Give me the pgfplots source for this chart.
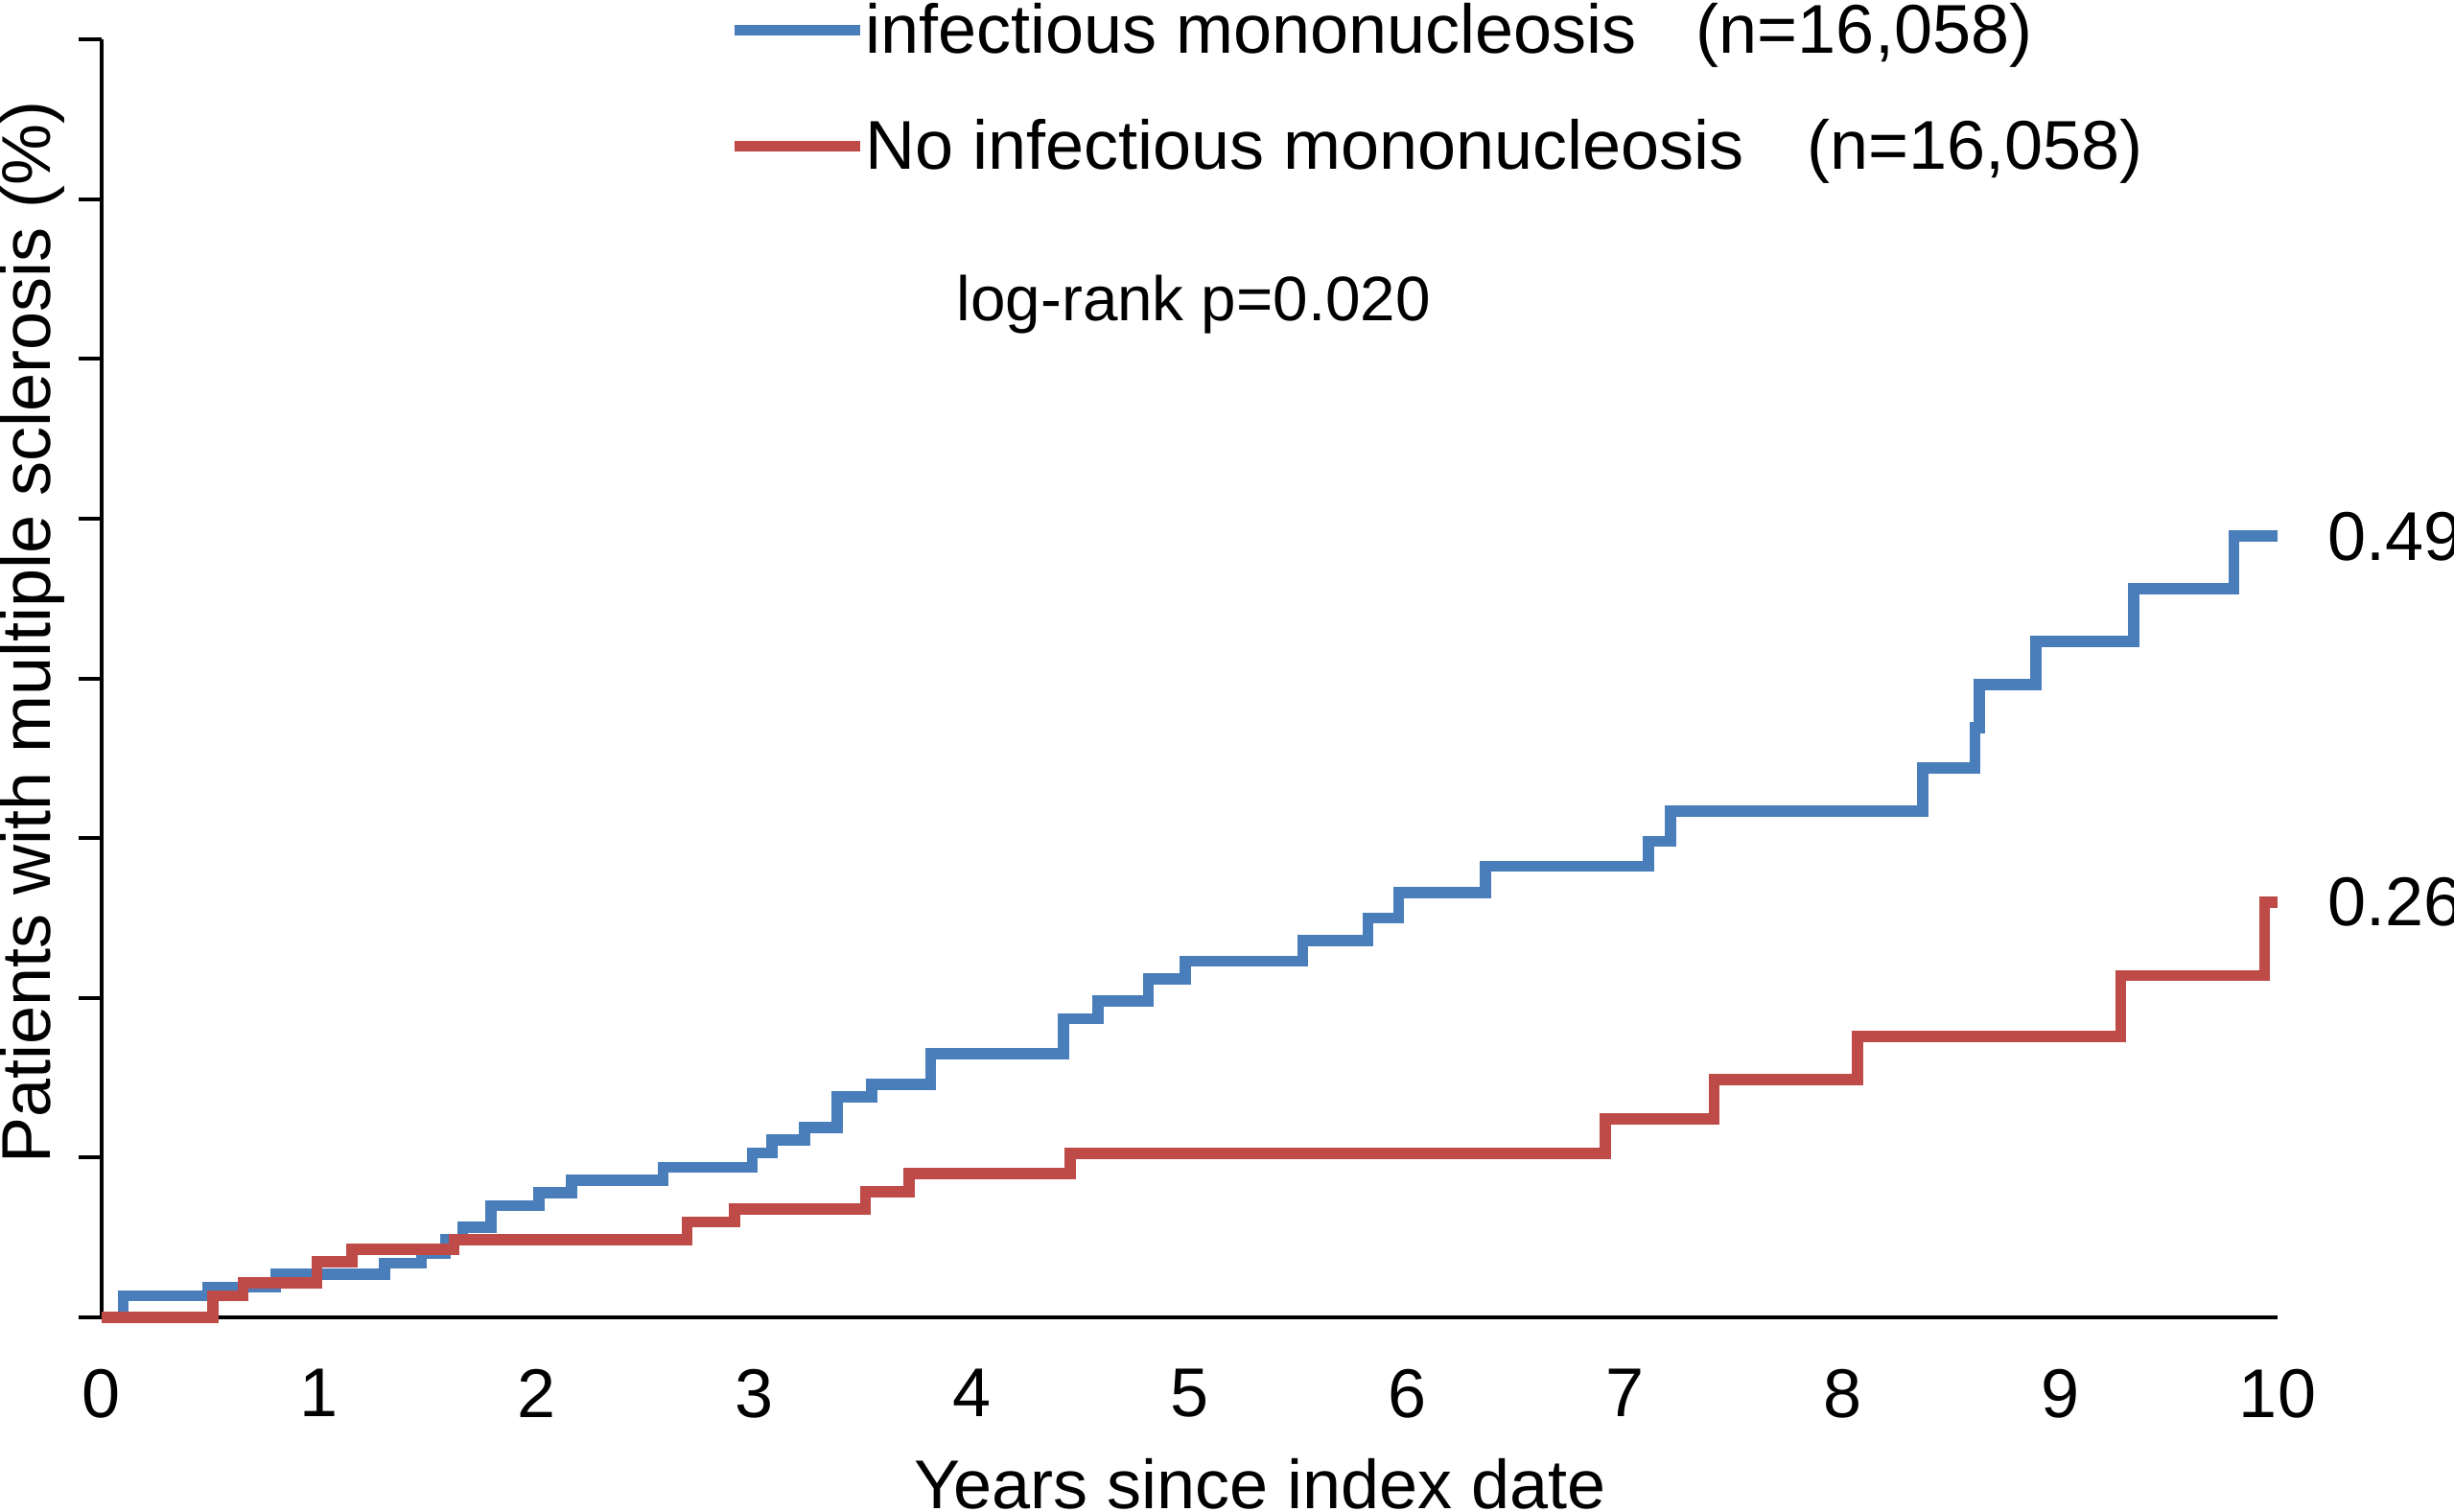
\documentclass[border=0pt]{standalone}
\usepackage{fontspec}
\setmainfont{Liberation Sans}
\usepackage{pgfplots}
\pgfplotsset{compat=1.18}
\definecolor{imblue}{HTML}{4A7EBB}
\definecolor{imred}{HTML}{BE4B48}
\newcommand{\ff}{\fontsize{18}{21.6}\selectfont}
\begin{document}
\begin{tikzpicture}[font=\ff]
\path[use as bounding box] (-26.5pt,-50.5pt) rectangle (613.25pt,343.5pt);
\begin{axis}[
  scale only axis, width=567.25pt, height=333.25pt,
  xmin=0, xmax=10, ymin=0, ymax=0.8,
  clip=false,
  axis x line=bottom, axis y line=left,
  axis line style={-, black, line width=1.1pt},
  xtick={0,1,2,3,4,5,6,7,8,9,10},
  ytick={0,0.1,0.2,0.3,0.4,0.5,0.6,0.7,0.8},
  yticklabels={},
  xtick style={draw=none},
  ytick style={black, line width=1pt},
  tick align=outside, major tick length=6pt,
  /pgf/number format/assume math mode=true,
  tick label style={font=\ff},
  xticklabel style={yshift=-4pt},
  xlabel={Years since index date},
  ylabel={Patients with multiple sclerosis (\%)},
  xlabel style={at={(axis description cs:0.5324,0)}, anchor=base, yshift=-49.75pt, inner sep=0pt, font=\ff},
  ylabel style={at={(axis description cs:-0.02336,0.536)}, anchor=base, inner sep=0pt, font=\ff},
  legend style={at={(axis description cs:0.2879,1.0377)}, anchor=north west, draw=none, fill=none,
    inner sep=0pt, inner xsep=0pt, inner ysep=0pt, row sep=10.25pt, column sep=0pt, font=\ff,
    nodes={inner sep=0pt, text height=16pt, text depth=4pt}},
  legend cell align=left,
  legend image code/.code={\draw[#1] (0pt,0pt) -- (32.75pt,0pt);},
]
\addplot[const plot, imblue, line width=2.9pt] coordinates {
(0,0) (0.10,0.0136) (0.49,0.019) (0.80,0.027) (1.30,0.034) (1.47,0.040)
(1.58,0.049) (1.66,0.0565) (1.79,0.070) (2.01,0.078) (2.16,0.086) (2.58,0.094)
(2.99,0.103) (3.08,0.111) (3.23,0.119) (3.38,0.138) (3.54,0.146) (3.81,0.165)
(4.42,0.187) (4.58,0.198) (4.81,0.212) (4.98,0.223) (5.52,0.236) (5.82,0.250)
(5.96,0.266) (6.36,0.2825) (7.11,0.298) (7.21,0.317) (8.37,0.344) (8.61,0.369)
(8.63,0.396) (8.89,0.423) (9.34,0.456) (9.80,0.489) (10.0,0.489)
};
\addlegendentry{infectious mononucleosis\hspace{15.5pt}(n=16,058)}
\addplot[const plot, imred, line width=2.9pt] coordinates {
(0,0) (0.51,0.0136) (0.65,0.0216) (0.99,0.0347) (1.15,0.0427) (1.62,0.0487)
(2.69,0.0598) (2.91,0.0678) (3.51,0.0788) (3.71,0.090) (4.45,0.1028)
(6.91,0.1244) (7.41,0.1488) (8.07,0.176) (9.28,0.214) (9.94,0.260) (10.0,0.260)
};
\addlegendentry{No infectious mononucleosis\hspace{16.3pt}(n=16,058)}
\node[anchor=west, inner sep=0pt, xshift=12.9pt] at (axis cs:10,0.489) {0.49};
\node[anchor=west, inner sep=0pt, xshift=12.9pt] at (axis cs:10,0.260) {0.26};
\node[anchor=base west, inner sep=0pt, font=\fontsize{16.4}{19.7}\selectfont] at (axis cs:3.927,0.6236) {log-rank p=0.020};
\end{axis}
\end{tikzpicture}
\end{document}
